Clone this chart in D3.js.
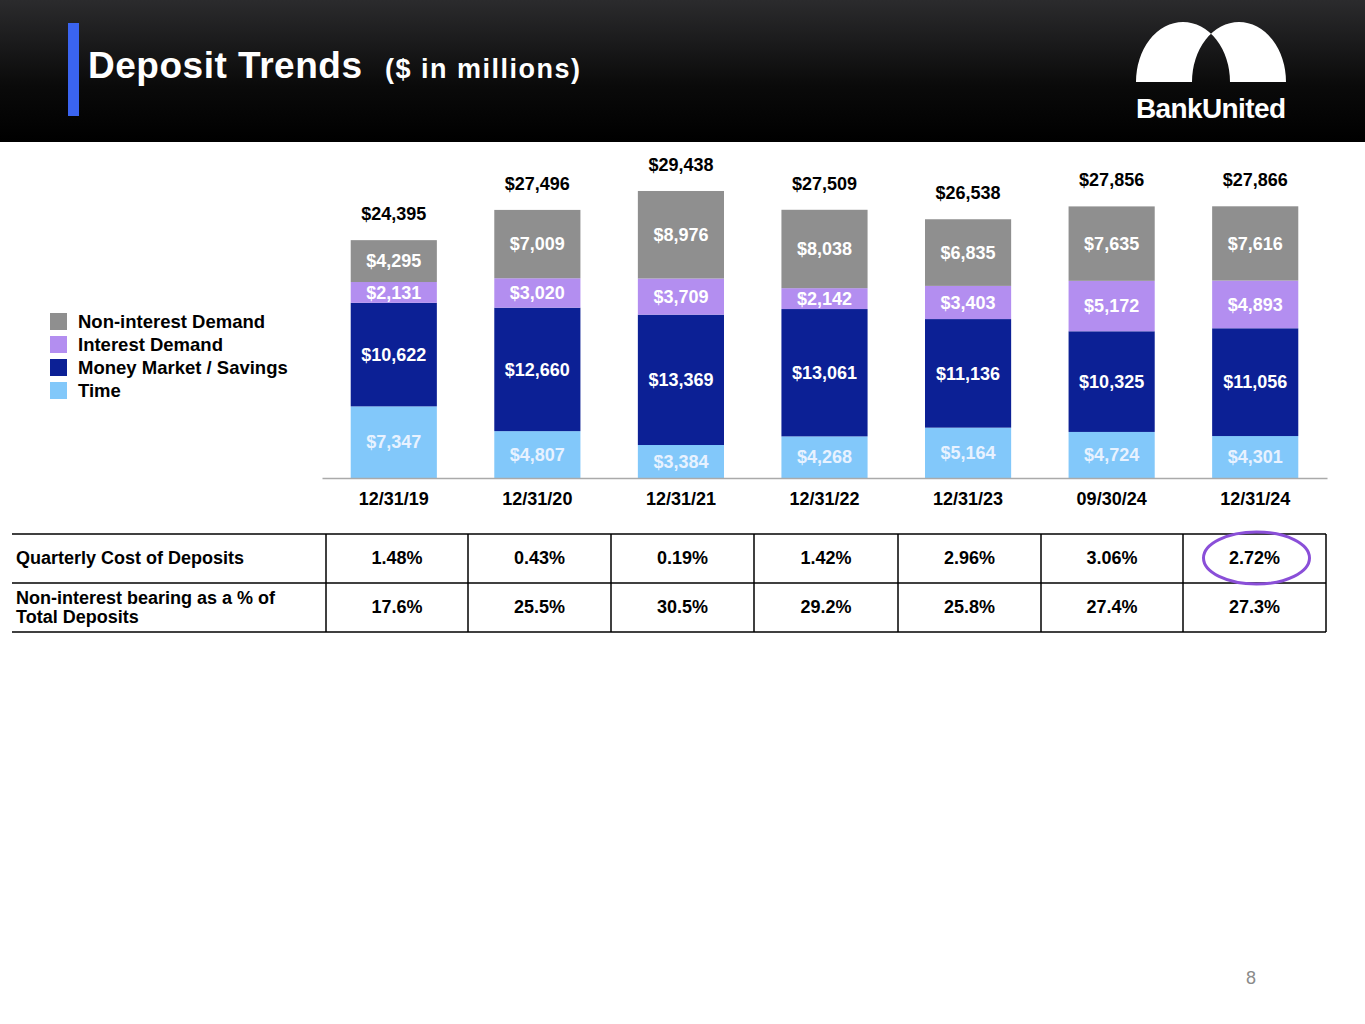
<!DOCTYPE html>
<html>
<head>
<meta charset="utf-8">
<script src="https://cdn.jsdelivr.net/npm/d3@7"></script>
<style>
body { margin: 0; background: #fff; }
text { font-family: "Liberation Sans", Arial, sans-serif; }
</style>
</head>
<body>
<svg id="chart" width="1365" height="1024"></svg>
<script>
var periods = ["12/31/19", "12/31/20", "12/31/21", "12/31/22", "12/31/23", "09/30/24", "12/31/24"];
var time = [7347, 4807, 3384, 4268, 5164, 4724, 4301];
var moneyMarket = [10622, 12660, 13369, 13061, 11136, 10325, 11056];
var interestDemand = [2131, 3020, 3709, 2142, 3403, 5172, 4893];
var nonInterestDemand = [4295, 7009, 8976, 8038, 6835, 7635, 7616];
var totals = [24395, 27496, 29438, 27509, 26538, 27856, 27866];
var costOfDeposits = ["1.48%", "0.43%", "0.19%", "1.42%", "2.96%", "3.06%", "2.72%"];
var nonInterestPct = ["17.6%", "25.5%", "30.5%", "29.2%", "25.8%", "27.4%", "27.3%"];

var series = [
    {name: "Time", values: time, color: "#82c8fa", text: "#e8f2ff"},
    {name: "Money Market / Savings", values: moneyMarket, color: "#0c2095", text: "#ffffff"},
    {name: "Interest Demand", values: interestDemand, color: "#b38ef0", text: "#ffffff"},
    {name: "Non-interest Demand", values: nonInterestDemand, color: "#8f8f8f", text: "#ffffff"}
];

var svg = d3.select("#chart");
var fmt = d3.format(",");

// header
var defs = svg.append("defs");
var grad = defs.append("linearGradient").attr("id", "hdr").attr("x1", 0).attr("y1", 0).attr("x2", 0).attr("y2", 1);
grad.append("stop").attr("offset", "0%").attr("stop-color", "#2b2b2d");
grad.append("stop").attr("offset", "60%").attr("stop-color", "#0a0a0a");
grad.append("stop").attr("offset", "100%").attr("stop-color", "#000");
svg.append("rect").attr("width", 1365).attr("height", 142).attr("fill", "url(#hdr)");
svg.append("rect").attr("x", 68).attr("y", 23).attr("width", 11).attr("height", 93).attr("fill", "#3a64f0");
svg.append("text").attr("x", 88).attr("y", 78).attr("fill", "#fff")
    .attr("font-size", 37).attr("font-weight", "bold").attr("textLength", 274).text("Deposit Trends");
svg.append("text").attr("x", 385).attr("y", 78).attr("fill", "#fff")
    .attr("font-size", 27).attr("font-weight", "bold").attr("textLength", 195).text("($ in millions)");

// logo
var logoPath = "M1136,82 A47,60 0 0 1 1230,82 Z M1192,82 A47,60 0 0 1 1286,82 Z";
svg.append("path").attr("d", logoPath).attr("fill", "#fff").attr("fill-rule", "evenodd");
svg.append("text").attr("x", 1211).attr("y", 118).attr("text-anchor", "middle").attr("fill", "#fff")
    .attr("font-size", 28).attr("font-weight", "bold").attr("textLength", 150).text("BankUnited");

// chart
var x = d3.scaleBand().domain(periods).range([322, 1327]).paddingInner(0.4).paddingOuter(0.2);
var y = d3.scaleLinear().domain([0, 32000]).range([478, 166]);

var stack = d3.stack().keys(d3.range(series.length))
    .value(function (d, k) { return series[k].values[d]; });
var stacked = stack(d3.range(periods.length));

var layer = svg.selectAll(".layer").data(stacked).enter().append("g").attr("class", "layer");
layer.selectAll("rect").data(function (d) { return d; }).enter().append("rect")
    .attr("x", function (d, i) { return x(periods[i]); })
    .attr("width", x.bandwidth())
    .attr("y", function (d) { return y(d[1]); })
    .attr("height", function (d) { return y(d[0]) - y(d[1]); })
    .attr("fill", function (d) { return series[this.parentNode.__data__.key].color; });

layer.each(function (s) {
    var ser = series[s.key];
    d3.select(this).selectAll("text").data(s).enter().append("text")
        .attr("x", function (d, i) { return x(periods[i]) + x.bandwidth() / 2; })
        .attr("y", function (d) { return (y(d[0]) + y(d[1])) / 2; })
        .attr("dy", "0.35em").attr("text-anchor", "middle")
        .attr("font-size", 18).attr("font-weight", "bold").attr("fill", ser.text)
        .text(function (d, i) { return "$" + fmt(ser.values[i]); });
});

svg.selectAll(".total").data(totals).enter().append("text")
    .attr("x", function (d, i) { return x(periods[i]) + x.bandwidth() / 2; })
    .attr("y", function (d) { return y(d) - 20; })
    .attr("text-anchor", "middle").attr("font-size", 18).attr("font-weight", "bold")
    .text(function (d) { return "$" + fmt(d); });

var xAxis = svg.append("g").attr("transform", "translate(0,478)")
    .call(d3.axisBottom(x).tickSize(0).tickPadding(14));
xAxis.select(".domain").attr("stroke", "#aaa").attr("stroke-width", 1.5);
xAxis.selectAll("text").attr("font-size", 18).attr("font-weight", "bold").attr("fill", "#000")
    .style("font-family", "Liberation Sans, Arial, sans-serif");

// legend
var legendItems = series.slice().reverse();
var lg = svg.selectAll(".lg").data(legendItems).enter().append("g")
    .attr("transform", function (d, i) { return "translate(50," + (313 + i * 23) + ")"; });
lg.append("rect").attr("width", 17).attr("height", 17).attr("fill", function (d) { return d.color; });
lg.append("text").attr("x", 28).attr("y", 15).attr("font-size", 18.5).attr("font-weight", "bold")
    .text(function (d) { return d.name; });

// table
var colEdges = [12, 326, 468, 611, 754, 898, 1041, 1183, 1326];
var rows = [
    {label: ["Quarterly Cost of Deposits"], values: costOfDeposits},
    {label: ["Non-interest bearing as a % of", "Total Deposits"], values: nonInterestPct}
];
var rowTop = 534, rowH = 49;
var tbl = svg.append("g");
rows.forEach(function (r, ri) {
    var ty = rowTop + ri * rowH;
    r.label.forEach(function (l, li) {
        tbl.append("text").attr("x", 16).attr("font-size", 18).attr("font-weight", "bold")
            .attr("y", r.label.length === 1 ? ty + 30 : ty + 21 + li * 19).text(l);
    });
    r.values.forEach(function (v, i) {
        tbl.append("text").attr("x", (colEdges[i + 1] + colEdges[i + 2]) / 2).attr("y", ty + 30)
            .attr("text-anchor", "middle").attr("font-size", 18).attr("font-weight", "bold").text(v);
    });
});
[rowTop, rowTop + rowH, rowTop + 2 * rowH].forEach(function (yy) {
    tbl.append("line").attr("x1", 12).attr("x2", 1326).attr("y1", yy).attr("y2", yy)
        .attr("stroke", "#000").attr("stroke-width", 1.5);
});
colEdges.slice(1).forEach(function (xx) {
    tbl.append("line").attr("x1", xx).attr("x2", xx).attr("y1", rowTop).attr("y2", rowTop + 2 * rowH)
        .attr("stroke", "#000").attr("stroke-width", 1.5);
});

// highlight circle on latest cost
svg.append("ellipse").attr("cx", (colEdges[7] + colEdges[8]) / 2 + 2).attr("cy", rowTop + 24)
    .attr("rx", 53).attr("ry", 26).attr("fill", "none").attr("stroke", "#8a4fd8").attr("stroke-width", 3);

svg.append("text").attr("x", 1251).attr("y", 984).attr("text-anchor", "middle")
    .attr("font-size", 18).attr("fill", "#8a8a8a").text("8");
</script>
</body>
</html>
